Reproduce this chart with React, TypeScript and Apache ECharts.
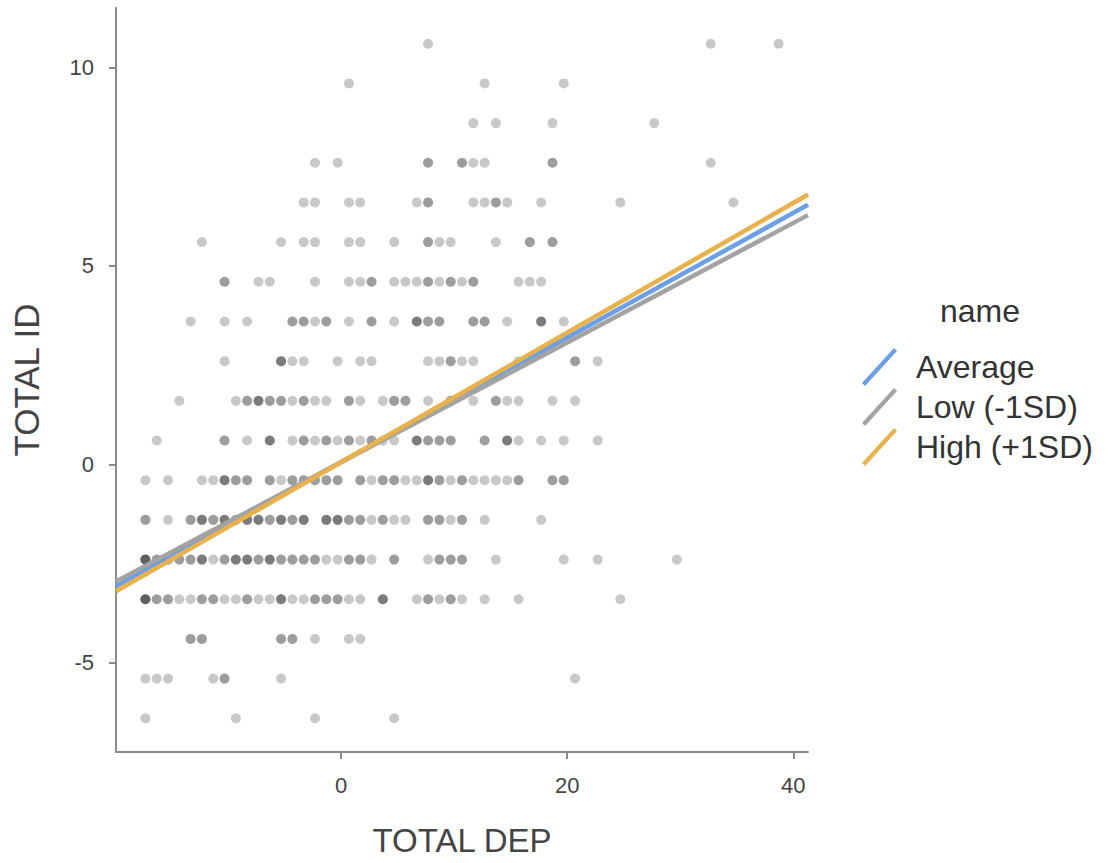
import React, { useEffect, useRef } from "react";
import * as echarts from "echarts";

// y level of each row of points (TOTAL ID) and the TOTAL DEP values in that row
const rowY = [10.6, 9.6, 8.6, 7.6, 6.6, 5.6, 4.6, 3.6, 2.6, 1.6, 0.6, -0.4, -1.4, -2.4, -3.4, -4.4, -5.4, -6.4];
const rowX: number[][] = [
  [7.7, 32.7, 38.7],
  [0.7, 12.7, 19.7],
  [11.7, 13.7, 18.7, 27.7],
  [-2.3, -0.3, 7.7, 7.7, 10.7, 10.7, 11.7, 12.7, 18.7, 18.7, 32.7],
  [-3.3, -2.3, 0.7, 1.7, 6.7, 7.7, 7.7, 11.7, 12.7, 13.7, 13.7, 14.7, 17.7, 24.7, 34.7],
  [-12.3, -5.3, -3.3, -2.3, 0.7, 1.7, 4.7, 7.7, 7.7, 8.7, 9.7, 13.7, 16.7, 16.7, 18.7, 18.7],
  [-10.3, -10.3, -7.3, -6.3, -2.3, 0.7, 1.7, 2.7, 2.7, 4.7, 5.7, 6.7, 7.7, 7.7, 8.7, 9.7, 9.7, 10.7, 11.7, 11.7, 15.7, 16.7, 17.7],
  [-13.3, -10.3, -8.3, -4.3, -4.3, -3.3, -3.3, -2.3, -1.3, -1.3, 0.7, 2.7, 2.7, 4.7, 6.7, 6.7, 6.7, 7.7, 7.7, 8.7, 8.7, 11.7, 11.7, 12.7, 12.7, 14.7, 17.7, 17.7, 17.7, 19.7],
  [-10.3, -5.3, -5.3, -5.3, -4.3, -3.3, -0.3, 1.7, 2.7, 7.7, 8.7, 9.7, 9.7, 10.7, 11.7, 15.7, 20.7, 20.7, 22.7],
  [-14.3, -9.3, -8.3, -8.3, -7.3, -7.3, -7.3, -6.3, -6.3, -5.3, -5.3, -4.3, -3.3, -3.3, -2.3, -1.3, 0.7, 0.7, 1.7, 3.7, 4.7, 4.7, 5.7, 5.7, 7.7, 9.7, 9.7, 11.7, 13.7, 13.7, 14.7, 15.7, 18.7, 20.7],
  [-16.3, -10.3, -10.3, -8.3, -6.3, -6.3, -6.3, -4.3, -3.3, -3.3, -2.3, -1.3, -1.3, -0.3, 0.7, 0.7, 1.7, 2.7, 2.7, 3.7, 4.7, 6.7, 6.7, 6.7, 7.7, 7.7, 8.7, 8.7, 9.7, 9.7, 12.7, 12.7, 14.7, 14.7, 14.7, 15.7, 17.7, 19.7, 22.7],
  [-17.3, -15.3, -12.3, -11.3, -10.3, -10.3, -10.3, -9.3, -9.3, -8.3, -8.3, -6.3, -6.3, -5.3, -4.3, -4.3, -3.3, -3.3, -2.3, -2.3, -1.3, -1.3, -0.3, -0.3, 1.7, 1.7, 2.7, 3.7, 3.7, 4.7, 4.7, 5.7, 6.7, 7.7, 7.7, 7.7, 8.7, 8.7, 9.7, 10.7, 10.7, 11.7, 12.7, 13.7, 14.7, 15.7, 15.7, 18.7, 18.7, 19.7, 19.7],
  [-17.3, -17.3, -15.3, -13.3, -13.3, -12.3, -12.3, -12.3, -11.3, -11.3, -10.3, -10.3, -10.3, -9.3, -9.3, -8.3, -8.3, -8.3, -7.3, -7.3, -7.3, -6.3, -6.3, -5.3, -5.3, -5.3, -4.3, -4.3, -3.3, -3.3, -3.3, -1.3, -1.3, -1.3, -0.3, -0.3, -0.3, 0.7, 0.7, 1.7, 1.7, 2.7, 3.7, 3.7, 4.7, 5.7, 7.7, 7.7, 8.7, 8.7, 9.7, 10.7, 10.7, 12.7, 17.7],
  [-17.3, -17.3, -17.3, -17.3, -16.3, -16.3, -15.3, -15.3, -14.3, -14.3, -13.3, -13.3, -12.3, -12.3, -12.3, -11.3, -10.3, -10.3, -9.3, -9.3, -9.3, -8.3, -8.3, -8.3, -7.3, -7.3, -6.3, -6.3, -6.3, -5.3, -5.3, -4.3, -4.3, -3.3, -3.3, -2.3, -2.3, -1.3, -0.3, 0.7, 0.7, 1.7, 1.7, 2.7, 4.7, 4.7, 7.7, 8.7, 8.7, 9.7, 9.7, 10.7, 10.7, 13.7, 19.7, 22.7, 29.7],
  [-17.3, -17.3, -17.3, -17.3, -16.3, -16.3, -15.3, -15.3, -14.3, -13.3, -12.3, -12.3, -11.3, -11.3, -10.3, -9.3, -8.3, -8.3, -7.3, -6.3, -5.3, -5.3, -5.3, -4.3, -3.3, -2.3, -2.3, -1.3, -1.3, -0.3, -0.3, 0.7, 1.7, 3.7, 3.7, 3.7, 6.7, 7.7, 7.7, 8.7, 9.7, 9.7, 10.7, 12.7, 15.7, 24.7],
  [-13.3, -13.3, -12.3, -12.3, -5.3, -5.3, -4.3, -4.3, -2.3, 0.7, 1.7],
  [-17.3, -16.3, -15.3, -11.3, -10.3, -10.3, -5.3, 20.7],
  [-17.3, -9.3, -2.3, 4.7],
];

// fitted lines, read at the left and right edges of the panel
const lineX = [-19.9, 41.3];
const averageY = [-3.07, 6.54];
const lowY = [-2.95, 6.28];
const highY = [-3.2, 6.8];

const seriesNames = ["Average", "Low (-1SD)", "High (+1SD)"];
const seriesColors = ["#6c9fe6", "#a3a3a3", "#e8b14c"];

const xTicks = [0, 20, 40];
const yTicks = [-5, 0, 5, 10];

const LEGEND_ICON = "path://M0,35 L32,0 L35,3 L3,38 Z";
const FONT = "Liberation Sans, Arial, sans-serif";

export default function App() {
  const ref = useRef<HTMLDivElement>(null);
  useEffect(() => {
    if (!ref.current) return;
    const chart = echarts.init(ref.current, undefined, { renderer: "svg" });
    const points: number[][] = [];
    rowX.forEach((xs, i) => xs.forEach((x) => points.push([x, rowY[i]])));
    const lines = [averageY, lowY, highY].map((ys, i) => ({
      name: seriesNames[i],
      type: "line",
      data: lineX.map((x, j) => [x, ys[j]]),
      showSymbol: false,
      symbol: "none",
      color: seriesColors[i],
      itemStyle: { color: seriesColors[i] },
      lineStyle: { color: seriesColors[i], width: 4.5 },
      z: 3 + i,
      silent: true,
    }));
    const axisCommon = {
      axisLine: { show: true, onZero: false, lineStyle: { color: "#8a8a8a", width: 2 } },
      axisTick: { show: true, length: 7, lineStyle: { color: "#8a8a8a", width: 2 } },
      splitLine: { show: false },
    };
    chart.setOption({
      animation: false,
      backgroundColor: "#ffffff",
      textStyle: { fontFamily: FONT },
      title: {
        text: "name",
        left: 940,
        top: 295,
        padding: 0,
        textStyle: { fontSize: 32, fontWeight: "normal", color: "#333", fontFamily: FONT },
      },
      legend: {
        data: seriesNames,
        orient: "vertical",
        left: 862,
        top: 348,
        padding: 0,
        itemWidth: 35,
        itemHeight: 38,
        itemGap: 2,
        icon: LEGEND_ICON,
        itemStyle: { borderWidth: 0 },
        textStyle: { fontSize: 32, color: "#333", fontFamily: FONT, padding: [0, 0, 0, 14] },
        selectedMode: false,
      },
      grid: { left: 116, top: 8, width: 692, height: 744, containLabel: false },
      xAxis: {
        type: "value",
        min: -19.9,
        max: 41.3,
        name: "TOTAL DEP",
        nameLocation: "middle",
        nameGap: 72,
        nameTextStyle: { fontSize: 33, color: "#444", fontFamily: FONT },
        ...axisCommon,
        axisTick: { ...axisCommon.axisTick, customValues: xTicks },
        axisLabel: { customValues: xTicks, fontSize: 22, color: "#444", margin: 22, fontFamily: FONT },
      },
      yAxis: {
        type: "value",
        min: -7.25,
        max: 11.5,
        name: "TOTAL ID",
        nameLocation: "middle",
        nameGap: 72,
        nameTextStyle: { fontSize: 35, color: "#444", fontFamily: FONT },
        ...axisCommon,
        axisTick: { ...axisCommon.axisTick, customValues: yTicks },
        axisLabel: { customValues: yTicks, fontSize: 22, color: "#444", margin: 22, fontFamily: FONT },
      },
      series: [
        {
          type: "scatter",
          data: points,
          symbolSize: 10,
          itemStyle: { color: "rgba(0,0,0,0.27)" },
          z: 2,
          silent: true,
        },
        ...lines,
      ],
    });
    return () => chart.dispose();
  }, []);
  return <div ref={ref} style={{ position: "absolute", left: 0, top: 0, width: 1111, height: 863 }} />;
}
